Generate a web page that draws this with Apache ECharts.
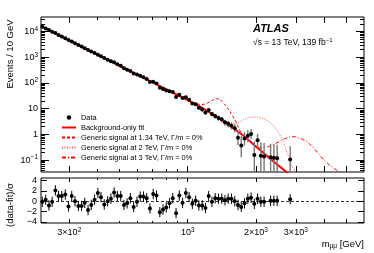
<!DOCTYPE html>
<html><head><meta charset="utf-8">
<script src="https://cdn.jsdelivr.net/npm/echarts@6/dist/echarts.min.js"></script>
<style>html,body{margin:0;padding:0;background:#fff}#c{width:374px;height:253px}</style>
</head><body><div id="c"></div>
<script>
// ---------------- data ----------------
const binMass = [228,236,244,252,260.5,269,278,288,297.5,307.5,318,329,340,351,363,375,388,401,414,428,443,458,473,489,506,523,540,558,577,597,617,638,659,681,704,728,753,778,804,831,859,888,918,949,981,1014,1048,1084,1120,1158,1197,1237,1279,1322,1367,1413,1460,1509,1560,1613,1667,1723,1781,1842,1904,1968,2034,2103,2173,2322,2401,2482,2833];
const dataValues = [15300,13200,11400,9850,8700,7400,6380,5520,4690,4100,3510,3020,2610,2255,1930,1675,1453,1265,1084,930,805,706,633,535,463,375,328,294,236,213,193,167,142,108.5,111.5,94.9,64.7,57.8,51.3,47.3,44.6,28.5,35.0,26.3,27.7,22.1,16.1,14.9,11.0,9.35,7.14,8.93,6.19,5.2,4.4,3.9,2.95,2.6,2.2,1.75,0.75,0.37,0.70,0.89,1.05,0.16,0.60,0.15,0.14,0.13,0.125,0.12,0.105];
const ratioValues = [-0.1,0.3,-0.8,-0.1,2.1,1.0,1.0,1.3,-1.0,1.0,0.0,-0.9,-0.9,-0.3,-1.7,-0.7,0.3,1.6,0.8,-0.6,0.0,0.5,1.7,1.0,1.0,-0.7,-0.4,0.6,-1.1,-0.1,0.9,0.9,0.6,-1.4,1.4,1.1,-2.1,-1.6,-1.2,-0.4,0.6,-2.3,1.1,-0.3,1.6,0.8,-0.5,0.1,-0.8,-0.8,-1.3,1.0,-0.1,0.6,0.5,0.5,0.2,0.5,0.5,0.0,-0.7,-1.1,-0.4,0.5,0.7,-0.5,0.5,-0.1,-0.1,0.1,0.1,0.1,0.4];
const ratioErr = 1;
const tailStart = 45; // first bin whose error bar is visible in the main panel
const tailErrLow  = [19.4,14.0,12.9,9.3,7.8,5.8,7.5,5.0,4.1,3.4,3.0,2.18,1.88,1.55,1.2,0.39,0.13,0.37,0.51,0.66,0.028,0.31,0.026,0.024,0.0225,0.0216,0.021,0.018];
const tailErrHigh = [24.8,18.2,16.9,12.7,10.9,8.5,10.4,7.4,6.3,5.4,4.8,3.72,3.32,2.85,2.52,1.34,0.86,1.25,1.49,1.62,0.53,1.07,0.495,0.46,0.43,0.41,0.40,0.35];

const fitMass   = [225,300,400,500,700,1000,1200,1400,1600,1800,2000,2200,2400,2600,2800];
const fitValues = [16200,4470,1259,468,104.7,21.4,8.91,3.76,1.70,0.759,0.339,0.166,0.0871,0.049,0.0288];

const sig134Mass   = [1000,1050,1100,1150,1200,1250,1300,1340,1380,1420,1460,1500,1550,1600,1650,1700,1750,1800];
const sig134Values = [21.4,17.9,15.5,14.5,15.5,18.5,22.5,24.5,23.5,19.0,14.0,10.5,6.8,4.2,2.6,1.4,0.95,0.77];
const sig2Mass   = [1350,1400,1450,1500,1550,1600,1650,1750,1870,2000,2140,2290,2450,2620,2750,2900,3040];
const sig2Values = [4.8,3.95,3.4,3.05,2.85,2.75,2.75,3.6,4.5,4.8,4.2,3.1,1.7,0.60,0.18,0.055,0.026];
const sig3Mass   = [1900,2000,2100,2200,2300,2450,2650,2800,2950,3100,3300,3450,3600,3800,4000,4300,4650,5000];
const sig3Values = [0.50,0.36,0.30,0.31,0.35,0.45,0.65,0.78,0.82,0.72,0.58,0.42,0.29,0.17,0.10,0.058,0.035,0.022];

const xLabelValues = [300,1000,2000,3000];
const xLabelTexts  = ['3×10^2','10^3','2×10^3','3×10^3'];
const xMajorTicks  = [300,1000,2000,3000,4000,5000];
const xMinorTicks  = [400,500,600,700,800,900];
const yLabelValues = [0.1,1,10,100,1000,10000];
const yLabelTexts  = ['10^-1','1','10','10^2','10^3','10^4'];
const ratioLabelValues = [-4,-2,0,2,4];

const seriesNames = ['Data','Background-only fit','Generic signal at 1.34 TeV, Γ/m = 0%','Generic signal at 2 TeV, Γ/m = 0%','Generic signal at 3 TeV, Γ/m = 0%'];

// ---------------- helpers ----------------
const L = Math.log10;
const FONT = 'Liberation Sans, Arial, Helvetica, sans-serif';
const X_MIN = L(225), X_MAX = L(6000);
const Y_MIN = -1.46, Y_MAX = 4.565;
const R_MIN = -4.2, R_MAX = 4.5;

const yMinor = [];
for (let n = -2; n <= 4; n++) for (let k = 2; k <= 9; k++) { const v = L(k) + n; if (v > Y_MIN && v < Y_MAX) yMinor.push(v); }

function toRich(s) { return s.replace(/\^(-?\d+)/, (m, e) => '{sup|' + e.replace('-', '−') + '}'); }
function makeFormatter(vals, texts) {
  const lv = vals.map(v => L(v));
  return function (v) { for (let i = 0; i < lv.length; i++) if (Math.abs(v - lv[i]) < 1e-6) return toRich(texts[i]); return ''; };
}
const rich = { sup: { fontSize: 6.5, fontFamily: FONT, color: '#000', verticalAlign: 'top', lineHeight: 7 } };

function axis(grid, pos, min, max, ticks, len, label) {
  const a = {
    type: 'value', gridIndex: grid, position: pos, min: min, max: max,
    axisLine: { show: false, onZero: false }, splitLine: { show: false },
    axisTick: { show: true, inside: true, length: len, customValues: ticks, lineStyle: { color: '#000', width: 1 } },
    axisLabel: { show: false }
  };
  if (label) a.axisLabel = Object.assign({ show: true, color: '#000', fontFamily: FONT, fontSize: 9, lineHeight: 12, rich: rich,
    hideOverlap: false, showMinLabel: true, showMaxLabel: true }, label);
  return a;
}

const xMaj = xMajorTicks.map(L), xMin = xMinorTicks.map(L);
const xAxes = [
  axis(0, 'bottom', X_MIN, X_MAX, xMaj, 6),
  axis(0, 'bottom', X_MIN, X_MAX, xMin, 3),
  axis(0, 'top', X_MIN, X_MAX, xMaj, 6),
  axis(0, 'top', X_MIN, X_MAX, xMin, 3),
  axis(1, 'bottom', X_MIN, X_MAX, xMaj, 4, { customValues: xLabelValues.map(L), formatter: makeFormatter(xLabelValues, xLabelTexts), margin: 4 }),
  axis(1, 'bottom', X_MIN, X_MAX, xMin, 2),
  axis(1, 'top', X_MIN, X_MAX, xMaj, 4),
  axis(1, 'top', X_MIN, X_MAX, xMin, 2)
];
const yMaj = yLabelValues.map(L);
const yAxes = [
  axis(0, 'left', Y_MIN, Y_MAX, yMaj, 8, { customValues: yMaj, formatter: makeFormatter(yLabelValues, yLabelTexts), margin: 3 }),
  axis(0, 'left', Y_MIN, Y_MAX, yMinor, 4),
  axis(0, 'right', Y_MIN, Y_MAX, yMaj, 8),
  axis(0, 'right', Y_MIN, Y_MAX, yMinor, 4),
  axis(1, 'left', R_MIN, R_MAX, ratioLabelValues, 6, { customValues: ratioLabelValues, formatter: v => (v < 0 ? '−' + (-v) : '' + v), margin: 4, lineHeight: 9 }),
  axis(1, 'right', R_MIN, R_MAX, ratioLabelValues, 6)
];

function errRender(color, width) {
  return function (params, api) {
    const x = api.value(0), lo = api.value(1), hi = api.value(2);
    const p1 = api.coord([x, lo]), p2 = api.coord([x, hi]);
    return { type: 'line', shape: { x1: p1[0], y1: p1[1], x2: p2[0], y2: p2[1] }, style: { stroke: color, lineWidth: width } };
  };
}
function curve(masses, vals) { return masses.map((m, i) => [L(m), L(vals[i])]); }

const mainPts = binMass.map((m, i) => [L(m), L(dataValues[i])]);
const mainErr = tailErrLow.map((lo, k) => [L(binMass[tailStart + k]), L(lo), L(tailErrHigh[k])]);
const ratioPts = binMass.map((m, i) => [L(m), ratioValues[i]]);
const ratioErrData = binMass.map((m, i) => [L(m), ratioValues[i] - ratioErr, ratioValues[i] + ratioErr]);

const lineSeries = (name, data, color, width, type, z) => ({
  name: name, type: 'line', xAxisIndex: 0, yAxisIndex: 0, data: data, symbol: 'none', showSymbol: false, smooth: 0.3,
  lineStyle: { color: color, width: width, type: type }, itemStyle: { color: color }, z: z, clip: true
});

const option = {
  animation: false,
  grid: [
    { left: 41, top: 17, width: 323, height: 155, show: true, borderColor: '#000', borderWidth: 1, backgroundColor: 'transparent' },
    { left: 41, top: 178, width: 323, height: 45, show: true, borderColor: '#000', borderWidth: 1, backgroundColor: 'transparent' }
  ],
  xAxis: xAxes,
  yAxis: yAxes,
  legend: {
    orient: 'vertical', left: 56, top: 109, itemWidth: 14, itemHeight: 4.5, itemGap: 3.0, itemTextGap: 4, selectedMode: false,
    textStyle: { fontSize: 7.4, fontFamily: FONT, color: '#000' },
    data: seriesNames.map((n, i) => i === 0 ? { name: n, icon: 'circle', itemStyle: { color: '#000', opacity: 1 } } : { name: n, itemStyle: { opacity: 0 } })
  },
  series: [
    lineSeries(seriesNames[2], curve(sig134Mass, sig134Values), '#ff0000', 1, [3, 2], 2),
    lineSeries(seriesNames[3], curve(sig2Mass, sig2Values), '#ff5050', 1, [1, 1.5], 2),
    lineSeries(seriesNames[4], curve(sig3Mass, sig3Values), '#ff0000', 1, [4, 2, 1, 2], 2),
    lineSeries(seriesNames[1], curve(fitMass, fitValues), '#ff0000', 2, 'solid', 3),
    { type: 'custom', xAxisIndex: 0, yAxisIndex: 0, data: mainErr, renderItem: errRender('#777', 1.4), encode: { x: 0, y: [1, 2] }, clip: true, z: 4, silent: true },
    { name: seriesNames[0], type: 'scatter', xAxisIndex: 0, yAxisIndex: 0, data: mainPts, symbol: 'circle', symbolSize: 4, itemStyle: { color: '#000', opacity: 1 }, z: 5, clip: true },
    { type: 'custom', xAxisIndex: 4, yAxisIndex: 4, data: ratioErrData, renderItem: errRender('#000', 1), encode: { x: 0, y: [1, 2] }, clip: true, z: 4, silent: true },
    { type: 'scatter', xAxisIndex: 4, yAxisIndex: 4, data: ratioPts, symbol: 'circle', symbolSize: 4, itemStyle: { color: '#000', opacity: 1 }, z: 5,
      markLine: { silent: true, symbol: ['none', 'none'], label: { show: false }, lineStyle: { color: '#000', type: [3, 2], width: 0.8 }, data: [{ yAxis: 0 }] } }
  ],
  graphic: [
    { type: 'text', left: 253, top: 23, style: { text: 'ATLAS', font: 'italic bold 11px ' + FONT, fill: '#000' } },
    { type: 'text', left: 253, top: 37, style: { text: '√s = 13 TeV, 139 fb{sup|−1}', font: '8.5px ' + FONT, fill: '#000', lineHeight: 11,
        rich: { sup: { fontSize: 6, fontFamily: FONT, fill: '#000', verticalAlign: 'top', lineHeight: 6 } } } },
    { type: 'text', x: 10, y: 54, rotation: Math.PI / 2, style: { text: 'Events / 10 GeV', font: '9.5px ' + FONT, fill: '#000', align: 'center', verticalAlign: 'middle' } },
    { type: 'text', x: 10, y: 205, rotation: Math.PI / 2, style: { text: '(data-fit)/σ', font: '9.5px ' + FONT, fill: '#000', align: 'center', verticalAlign: 'middle' } },
    { type: 'text', right: 10, top: 238, style: { text: 'm{sub|μμ} [GeV]', font: '9.5px ' + FONT, fill: '#000', lineHeight: 12,
        rich: { sub: { fontSize: 6.5, fontFamily: FONT, fill: '#000', verticalAlign: 'bottom', lineHeight: 7 } } } }
  ]
};
const chart = echarts.init(document.getElementById('c'), null, { renderer: 'canvas' });
chart.setOption(option);
</script></body></html>
